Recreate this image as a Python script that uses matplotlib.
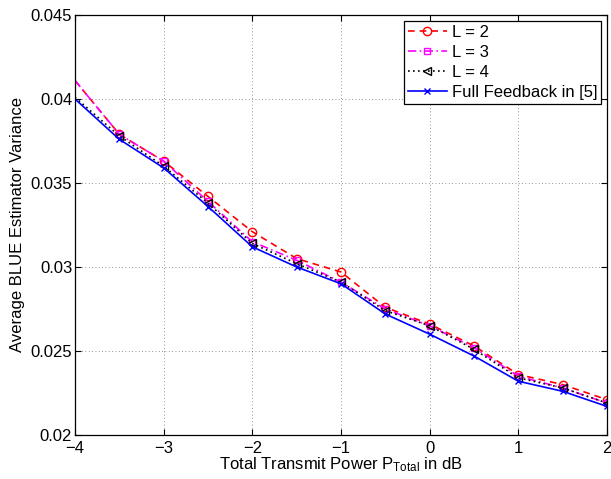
import numpy as np
import matplotlib
matplotlib.use('Agg')
import matplotlib.pyplot as plt
from matplotlib import rcParams
rcParams['font.family'] = 'Liberation Sans'
rcParams['mathtext.fontset'] = 'custom'
rcParams['mathtext.rm'] = 'Liberation Sans'
rcParams['mathtext.it'] = 'Liberation Sans:italic'

# Total transmit power in dB
power_db = [-4, -3.5, -3, -2.5, -2, -1.5, -1, -0.5, 0, 0.5, 1, 1.5, 2]

# Average BLUE estimator variance for each scheme
var_L2 = [0.0411, 0.0379, 0.0363, 0.0342, 0.0321, 0.0305, 0.0297,
          0.0276, 0.0266, 0.0253, 0.0236, 0.0230, 0.0221]
var_L3 = [0.0411, 0.0379, 0.0363, 0.0339, 0.0315, 0.0304, 0.0291,
          0.0275, 0.0265, 0.0252, 0.0235, 0.0228, 0.0219]
var_L4 = [0.0401, 0.0378, 0.0360, 0.0338, 0.0314, 0.0302, 0.0291,
          0.0274, 0.0265, 0.0251, 0.0234, 0.0228, 0.0219]
var_full = [0.0400, 0.0376, 0.0359, 0.0336, 0.0312, 0.0300, 0.0290,
            0.0272, 0.0260, 0.0247, 0.0232, 0.0226, 0.0217]

labels = ['L = 2', 'L = 3', 'L = 4', 'Full Feedback in [5]']
xticks = [-4, -3, -2, -1, 0, 1, 2]
yticks = [0.02, 0.025, 0.03, 0.035, 0.04, 0.045]
ytick_labels = ['0.02', '0.025', '0.03', '0.035', '0.04', '0.045']

fig = plt.figure(figsize=(6.11, 4.79), dpi=100)
ax = fig.add_axes([0.1227, 0.0919, 0.8708, 0.8768])

# first point sits on the axis edge, no marker drawn there
mk = slice(1, None)
ax.plot(power_db, var_L2, color='#ff0000', linestyle=(0, (4, 3)), marker='o',
        markersize=6, markerfacecolor='none', lw=1.2, markevery=mk, label=labels[0])
ax.plot(power_db, var_L3, color='#ff00ff', linestyle=(0, (5, 2, 1, 2)), marker='s',
        markersize=4.5, markerfacecolor='none', lw=1.2, markevery=mk, label=labels[1])
ax.plot(power_db, var_L4, color='k', linestyle=(0, (1, 2)), marker='<',
        markersize=6, markerfacecolor='none', lw=1.2, markevery=mk, label=labels[2])
ax.plot(power_db, var_full, color='#0000ff', linestyle='-', marker='x',
        markersize=4, lw=1.2, markevery=mk, label=labels[3])

ax.set_xlim(-4, 2)
ax.set_ylim(0.02, 0.045)
ax.set_xticks(xticks)
ax.set_xticklabels([str(t).replace('-', '\u2212') for t in xticks])
ax.set_yticks(yticks)
ax.set_yticklabels(ytick_labels)
ax.tick_params(direction='in', top=True, right=True, labelsize=12, length=4)
ax.tick_params(axis='x', pad=4)
ax.tick_params(axis='y', pad=2)
ax.grid(True, linestyle=(0, (1, 3)), color='k', lw=0.6, alpha=0.55)
for s in ax.spines.values():
    s.set_linewidth(0.9)

ax.set_xlabel(r'Total Transmit Power P$_{\mathrm{Total}}$ in dB', fontsize=12, labelpad=0)
ax.set_ylabel('Average BLUE Estimator Variance', fontsize=12, labelpad=4)

leg = ax.legend(loc='upper right', fontsize=12, handlelength=2.3, fancybox=False,
                framealpha=1, edgecolor='k', borderaxespad=0.35, borderpad=0.25,
                labelspacing=0.3, handletextpad=0.3)
leg.get_frame().set_linewidth(0.9)

fig.savefig('out.png', dpi=100)
